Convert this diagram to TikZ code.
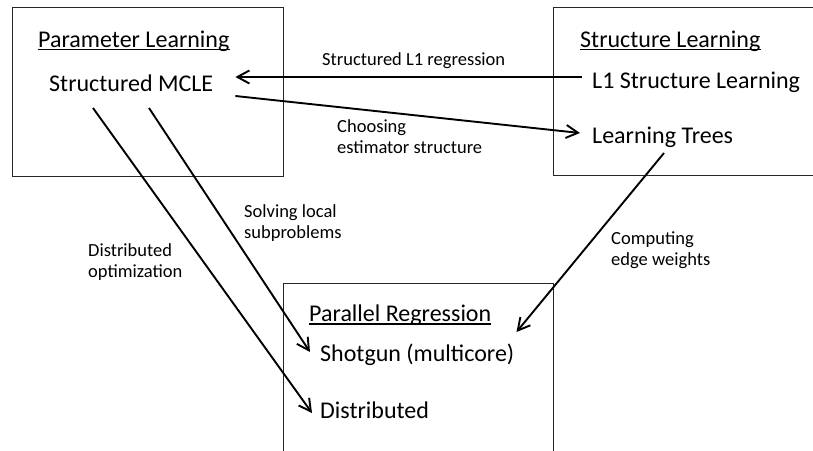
\documentclass[tikz,border=0pt]{standalone}
\usepackage{fontspec}
\setmainfont{Carlito}
\usetikzlibrary{arrows.meta,calc}
\begin{document}
\begin{tikzpicture}[x=1pt,y=-1pt,
  box/.style={draw=black!85,line width=0.9pt},
  main/.style={inner sep=0pt,anchor=base west,font=\fontsize{24}{28}\selectfont},
  lab/.style={inner sep=0pt,anchor=base west,align=left,font=\fontsize{18.5}{20.5}\selectfont},
  arr/.style={line width=1.9pt,-{Straight Barb[length=12pt,width=13pt,line width=1.9pt]}},
  uline/.style={line width=1.4pt}]
\useasboundingbox (0,0) rectangle (813,450);
% boxes
\draw[box] (12,7) rectangle (283,176);
\draw[box] (553,7) rectangle (818,175);
\draw[box] (283,283) rectangle (553,460);
% titles
\node[main] (pl) at (38,47) {Parameter Learning};
\node[main] (sl) at (580,47) {Structure Learning};
\node[main] (pr) at (309,321.5) {Parallel Regression};
\draw[uline] ($(pl.base west)+(0,2.5)$) -- ($(pl.base east)+(0,2.5)$);
\draw[uline] ($(sl.base west)+(0,2.5)$) -- ($(sl.base east)+(0,2.5)$);
\draw[uline] ($(pr.base west)+(0,2.5)$) -- ($(pr.base east)+(0,2.5)$);
% items
\node[main] (mcle) at (49,91) {Structured MCLE};
\node[main] (l1) at (592,88) {L1 Structure Learning};
\node[main] (lt) at (592,143.5) {Learning Trees};
\node[main] (sg) at (320,361.5) {Shotgun (multicore)};
\node[main] (di) at (320,418) {Distributed};
% labels (base anchor = baseline of last line)
\node[lab] (lab1) at (322,65) {Structured L1 regression};
\node[lab] (lab2) at (337,153) {Choosing\\estimator structure};
\node[lab] (lab3) at (244,238) {Solving local\\subproblems};
\node[lab] (lab4) at (611,265) {Computing\\edge weights};
\node[lab] (lab5) at (88,277) {Distributed\\optimization};
% arrows
\draw[arr] ($(l1.base west)+(-10,-11)$) -- ($(mcle.base east)+(22,-14)$);
\draw[arr] ($(mcle.base east)+(22,5)$) -- ($(lt.base west)+(-12,-10.5)$);
\draw[arr] ($(mcle.base west)+(44,17)$) -- ($(di.base west)+(-8,-5)$);
\draw[arr] ($(mcle.base west)+(100,17)$) -- ($(sg.base west)+(-10,-9.5)$);
\draw[arr] ($(lt.base west)+(72,9.5)$) -- ($(sg.base east)+(2,-29.5)$);
\end{tikzpicture}
\end{document}
